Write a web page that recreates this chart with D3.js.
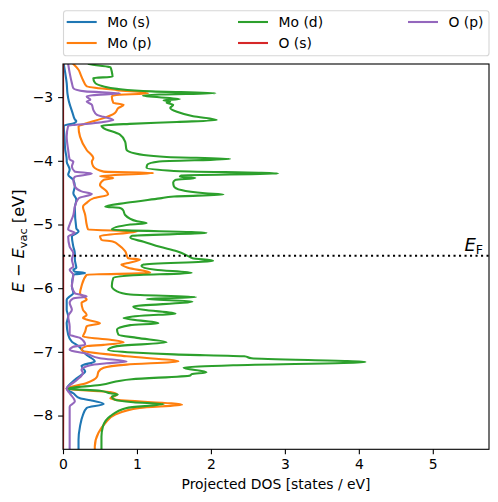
<!DOCTYPE html>
<html><head><meta charset="utf-8">
<script src="https://cdn.jsdelivr.net/npm/d3@7/dist/d3.min.js"></script>
<style>body{margin:0;background:#fff}svg text{font-family:"DejaVu Sans",sans-serif}</style>
</head><body><svg id="c" width="498" height="502"></svg>
<script>
// ---- data: [energy (eV), projected DOS (states/eV)] ----
const seriesNames = ["Mo (s)", "Mo (p)", "Mo (d)", "O (s)", "O (p)"];
const seriesColors = ["#1f77b4", "#ff7f0e", "#2ca02c", "#d62728", "#9467bd"];
const moS = [[-2.48,0.01],[-2.62,0.03],[-2.78,0.05],[-2.94,0.06],[-3.07,0.08],[-3.25,0.13],[-3.35,0.16],[-3.38,0.18],[-3.41,0.15],[-3.45,0.01],[-3.62,0.02],[-3.83,0.03],[-3.98,0.05],[-4.01,0.05],[-4.14,0.09],[-4.22,0.07],[-4.30,0.14],[-4.40,0.16],[-4.51,0.14],[-4.61,0.18],[-4.74,0.16],[-5.06,0.18],[-5.11,0.21],[-5.19,0.12],[-5.35,0.14],[-5.45,0.16],[-5.55,0.16],[-5.68,0.18],[-5.71,0.14],[-5.74,0.16],[-5.76,0.30],[-5.79,0.14],[-5.97,0.12],[-6.08,0.14],[-6.13,0.09],[-6.18,0.05],[-6.34,0.05],[-6.44,0.07],[-6.55,0.05],[-6.73,0.07],[-6.84,0.12],[-6.91,0.21],[-7.05,0.32],[-7.15,0.43],[-7.22,0.25],[-7.31,0.30],[-7.36,0.25],[-7.44,0.16],[-7.58,0.05],[-7.65,0.14],[-7.73,0.23],[-7.76,0.37],[-7.82,0.55],[-7.88,0.32],[-7.99,0.27],[-8.17,0.23],[-8.38,0.21],[-8.53,0.21]];
const moP = [[-2.48,0.14],[-2.57,0.21],[-2.65,0.24],[-2.73,0.27],[-2.83,0.32],[-2.89,0.73],[-2.94,1.15],[-2.97,0.70],[-2.99,0.66],[-3.09,0.68],[-3.12,0.82],[-3.17,0.75],[-3.25,0.70],[-3.33,0.55],[-3.41,0.32],[-3.46,0.21],[-3.62,0.23],[-3.83,0.32],[-3.96,0.41],[-4.01,0.39],[-4.09,0.41],[-4.17,0.55],[-4.19,1.22],[-4.24,0.50],[-4.27,0.68],[-4.30,0.55],[-4.38,0.50],[-4.48,0.59],[-4.53,0.61],[-4.59,0.41],[-4.66,0.32],[-4.72,0.27],[-4.85,0.30],[-5.00,0.32],[-5.08,0.34],[-5.11,1.00],[-5.18,0.50],[-5.24,0.52],[-5.27,0.68],[-5.32,0.75],[-5.42,0.84],[-5.53,0.88],[-5.55,1.04],[-5.61,0.86],[-5.63,0.79],[-5.68,0.88],[-5.76,1.18],[-5.79,0.32],[-5.97,0.25],[-6.08,0.23],[-6.18,0.32],[-6.23,0.25],[-6.34,0.27],[-6.42,0.32],[-6.47,0.27],[-6.50,0.34],[-6.55,0.50],[-6.60,0.32],[-6.68,0.30],[-6.76,0.27],[-6.81,0.64],[-6.85,0.82],[-6.89,0.55],[-6.91,0.32],[-6.97,0.25],[-7.07,0.86],[-7.15,1.56],[-7.20,0.86],[-7.25,0.55],[-7.31,0.48],[-7.39,0.46],[-7.49,0.32],[-7.58,0.05],[-7.61,0.37],[-7.63,0.64],[-7.67,0.73],[-7.73,0.64],[-7.75,0.70],[-7.83,1.61],[-7.88,1.04],[-7.99,0.70],[-8.12,0.57],[-8.27,0.48],[-8.49,0.43],[-8.53,0.43]];
const moD = [[-2.48,0.35],[-2.50,0.45],[-2.53,0.64],[-2.60,0.66],[-2.68,0.67],[-2.70,0.41],[-2.77,0.43],[-2.83,0.54],[-2.87,0.73],[-2.91,1.20],[-2.94,2.06],[-2.96,1.30],[-2.98,1.08],[-3.03,1.58],[-3.05,1.36],[-3.07,1.45],[-3.09,1.40],[-3.12,1.49],[-3.17,1.45],[-3.23,1.54],[-3.30,1.76],[-3.36,2.08],[-3.39,1.54],[-3.42,0.90],[-3.45,0.52],[-3.48,0.54],[-3.59,0.77],[-3.70,0.84],[-3.83,0.86],[-3.91,1.09],[-3.94,1.40],[-3.97,2.26],[-4.01,1.30],[-4.06,1.14],[-4.11,1.13],[-4.16,1.50],[-4.20,2.91],[-4.23,1.60],[-4.25,1.58],[-4.27,1.79],[-4.30,1.52],[-4.34,1.49],[-4.40,1.50],[-4.46,1.60],[-4.51,1.92],[-4.53,2.17],[-4.56,1.50],[-4.59,1.31],[-4.66,0.86],[-4.72,0.57],[-4.74,0.77],[-4.77,0.81],[-4.85,0.84],[-4.95,1.00],[-4.98,1.13],[-5.00,0.91],[-5.08,0.66],[-5.13,1.94],[-5.18,0.93],[-5.21,0.91],[-5.27,1.09],[-5.35,1.31],[-5.42,1.54],[-5.50,1.70],[-5.53,1.75],[-5.57,2.03],[-5.63,1.09],[-5.65,1.06],[-5.71,1.25],[-5.76,1.74],[-5.80,0.90],[-5.84,0.68],[-5.97,0.66],[-6.05,0.73],[-6.10,0.91],[-6.14,1.80],[-6.17,1.13],[-6.21,1.75],[-6.29,0.95],[-6.34,1.09],[-6.40,1.52],[-6.43,1.10],[-6.47,0.82],[-6.55,1.29],[-6.58,0.91],[-6.65,0.73],[-6.73,0.75],[-6.78,1.00],[-6.85,1.40],[-6.91,0.73],[-6.97,0.61],[-7.01,0.95],[-7.04,1.50],[-7.07,2.45],[-7.10,2.55],[-7.16,4.09],[-7.21,2.30],[-7.25,1.63],[-7.32,1.94],[-7.35,1.74],[-7.37,1.72],[-7.43,0.93],[-7.52,0.50],[-7.58,0.05],[-7.61,0.50],[-7.65,0.64],[-7.67,0.74],[-7.70,0.66],[-7.75,0.70],[-7.79,0.95],[-7.82,1.36],[-7.88,0.86],[-8.01,0.64],[-8.17,0.54],[-8.33,0.52],[-8.53,0.52]];
const oS = [[-2.48,0.001],[-4.00,0.001],[-5.00,0.002],[-5.50,0.003],[-6.00,0.002],[-7.00,0.003],[-7.55,0.005],[-7.65,0.004],[-8.53,0.001]];
const oP = [[-2.48,0.07],[-2.62,0.09],[-2.78,0.12],[-2.86,0.14],[-2.91,0.30],[-2.94,0.77],[-2.97,0.40],[-2.99,0.32],[-3.04,0.37],[-3.07,0.32],[-3.12,0.39],[-3.20,0.41],[-3.28,0.46],[-3.31,0.55],[-3.36,0.68],[-3.41,0.41],[-3.45,0.07],[-3.62,0.05],[-3.83,0.07],[-3.98,0.09],[-4.01,0.14],[-4.09,0.12],[-4.17,0.16],[-4.20,0.39],[-4.25,0.16],[-4.30,0.14],[-4.40,0.16],[-4.48,0.25],[-4.52,0.39],[-4.59,0.21],[-4.72,0.16],[-4.85,0.14],[-5.00,0.09],[-5.08,0.07],[-5.13,0.16],[-5.19,0.07],[-5.35,0.09],[-5.45,0.14],[-5.55,0.12],[-5.66,0.14],[-5.71,0.09],[-5.79,0.14],[-5.97,0.12],[-6.08,0.16],[-6.13,0.32],[-6.16,0.14],[-6.23,0.09],[-6.34,0.12],[-6.44,0.07],[-6.60,0.09],[-6.73,0.09],[-6.78,0.23],[-6.89,0.30],[-6.92,0.14],[-6.97,0.09],[-7.03,0.32],[-7.10,0.50],[-7.15,0.86],[-7.18,0.59],[-7.21,0.37],[-7.28,0.25],[-7.33,0.27],[-7.44,0.19],[-7.58,0.05],[-7.65,0.09],[-7.78,0.16],[-7.86,0.09],[-8.01,0.09],[-8.27,0.09],[-8.53,0.09]];
const seriesData = [moS, moP, moD, oS, oP];
const xTicks = [0, 1, 2, 3, 4, 5];
const yTicks = [-8, -7, -6, -5, -4, -3];
const fermiLevel = -5.49;
const xDomain = [0, 5.76];
const yDomain = [-8.53, -2.48];

// ---- layout ----
const L = 63, R = 489, T = 64, B = 449.3;
const FS = 13.9;
const svg = d3.select("#c");
const x = d3.scaleLinear().domain(xDomain).range([L, R]);
const y = d3.scaleLinear().domain(yDomain).range([B, T]);

svg.append("defs").append("clipPath").attr("id", "clip")
  .append("rect").attr("x", L).attr("y", T).attr("width", R - L).attr("height", B - T);

const line = d3.line().x(d => x(d[1])).y(d => y(d[0])).curve(d3.curveMonotoneY);
const g = svg.append("g").attr("clip-path", "url(#clip)");
seriesData.forEach((s, i) => {
  g.append("path").datum(s).attr("d", line).attr("fill", "none")
    .attr("stroke", seriesColors[i]).attr("stroke-width", 2.1)
    .attr("stroke-linejoin", "round").attr("stroke-linecap", "square");
});
// Fermi level
g.append("line").attr("x1", L).attr("x2", R).attr("y1", y(fermiLevel)).attr("y2", y(fermiLevel))
  .attr("stroke", "#000").attr("stroke-width", 2.1).attr("stroke-dasharray", "2.1,3.4");

const ef = svg.append("text").attr("x", 483).attr("y", y(fermiLevel) - 4.5)
  .attr("text-anchor", "end").attr("font-size", 18).attr("fill", "#000");
ef.append("tspan").attr("font-style", "italic").text("E");
ef.append("tspan").attr("font-size", 12.6).attr("dy", 3).text("F");

// axes
const xAxis = d3.axisBottom(x).tickValues(xTicks).tickFormat(d3.format("d")).tickSize(4.9).tickPadding(4.9);
const yAxis = d3.axisLeft(y).tickValues(yTicks).tickFormat(d => String(d).replace("-", "\u2212")).tickSize(4.9).tickPadding(4.9);
const gx = svg.append("g").attr("transform", `translate(0,${B})`).call(xAxis);
const gy = svg.append("g").attr("transform", `translate(${L},0)`).call(yAxis);
[gx, gy].forEach(a => {
  a.select(".domain").remove();
  a.selectAll("line").attr("stroke", "#000").attr("stroke-width", 1.1);
  a.selectAll("text").attr("font-size", FS).attr("fill", "#000").style("font-family", "DejaVu Sans");
});
svg.append("rect").attr("x", L).attr("y", T).attr("width", R - L).attr("height", B - T)
  .attr("fill", "none").attr("stroke", "#000").attr("stroke-width", 1.1);

// axis labels
svg.append("text").attr("x", (L + R) / 2).attr("y", 489).attr("text-anchor", "middle")
  .attr("font-size", FS).text("Projected DOS [states / eV]");
const YFS = 16.2;
const yl = svg.append("text").attr("transform", `translate(24,241) rotate(-90)`)
  .attr("text-anchor", "middle").attr("font-size", YFS);
yl.append("tspan").attr("font-style", "italic").text("E");
yl.append("tspan").text(" \u2212 ");
yl.append("tspan").attr("font-style", "italic").text("E");
yl.append("tspan").attr("font-size", YFS * 0.7).attr("dy", 3).text("vac");
yl.append("tspan").attr("dy", -3).text(" [eV]");

// legend
const lg = svg.append("g");
lg.append("rect").attr("x", 63.5).attr("y", 10.7).attr("width", 425.5).attr("height", 45)
  .attr("rx", 2.8).attr("fill", "#fff").attr("fill-opacity", 0.8).attr("stroke", "#d6d6d6").attr("stroke-width", 1.1);
const colX = [66.7, 238, 408];
const rowY = [22, 43];
seriesNames.forEach((n, i) => {
  const c = Math.floor(i / 2), r = i % 2;
  const ly = rowY[r];
  lg.append("line").attr("x1", colX[c]).attr("x2", colX[c] + 30).attr("y1", ly).attr("y2", ly)
    .attr("stroke", seriesColors[i]).attr("stroke-width", 2.1);
  lg.append("text").attr("x", colX[c] + 40.5).attr("y", ly + 5).attr("font-size", FS).text(n);
});
</script></body></html>
